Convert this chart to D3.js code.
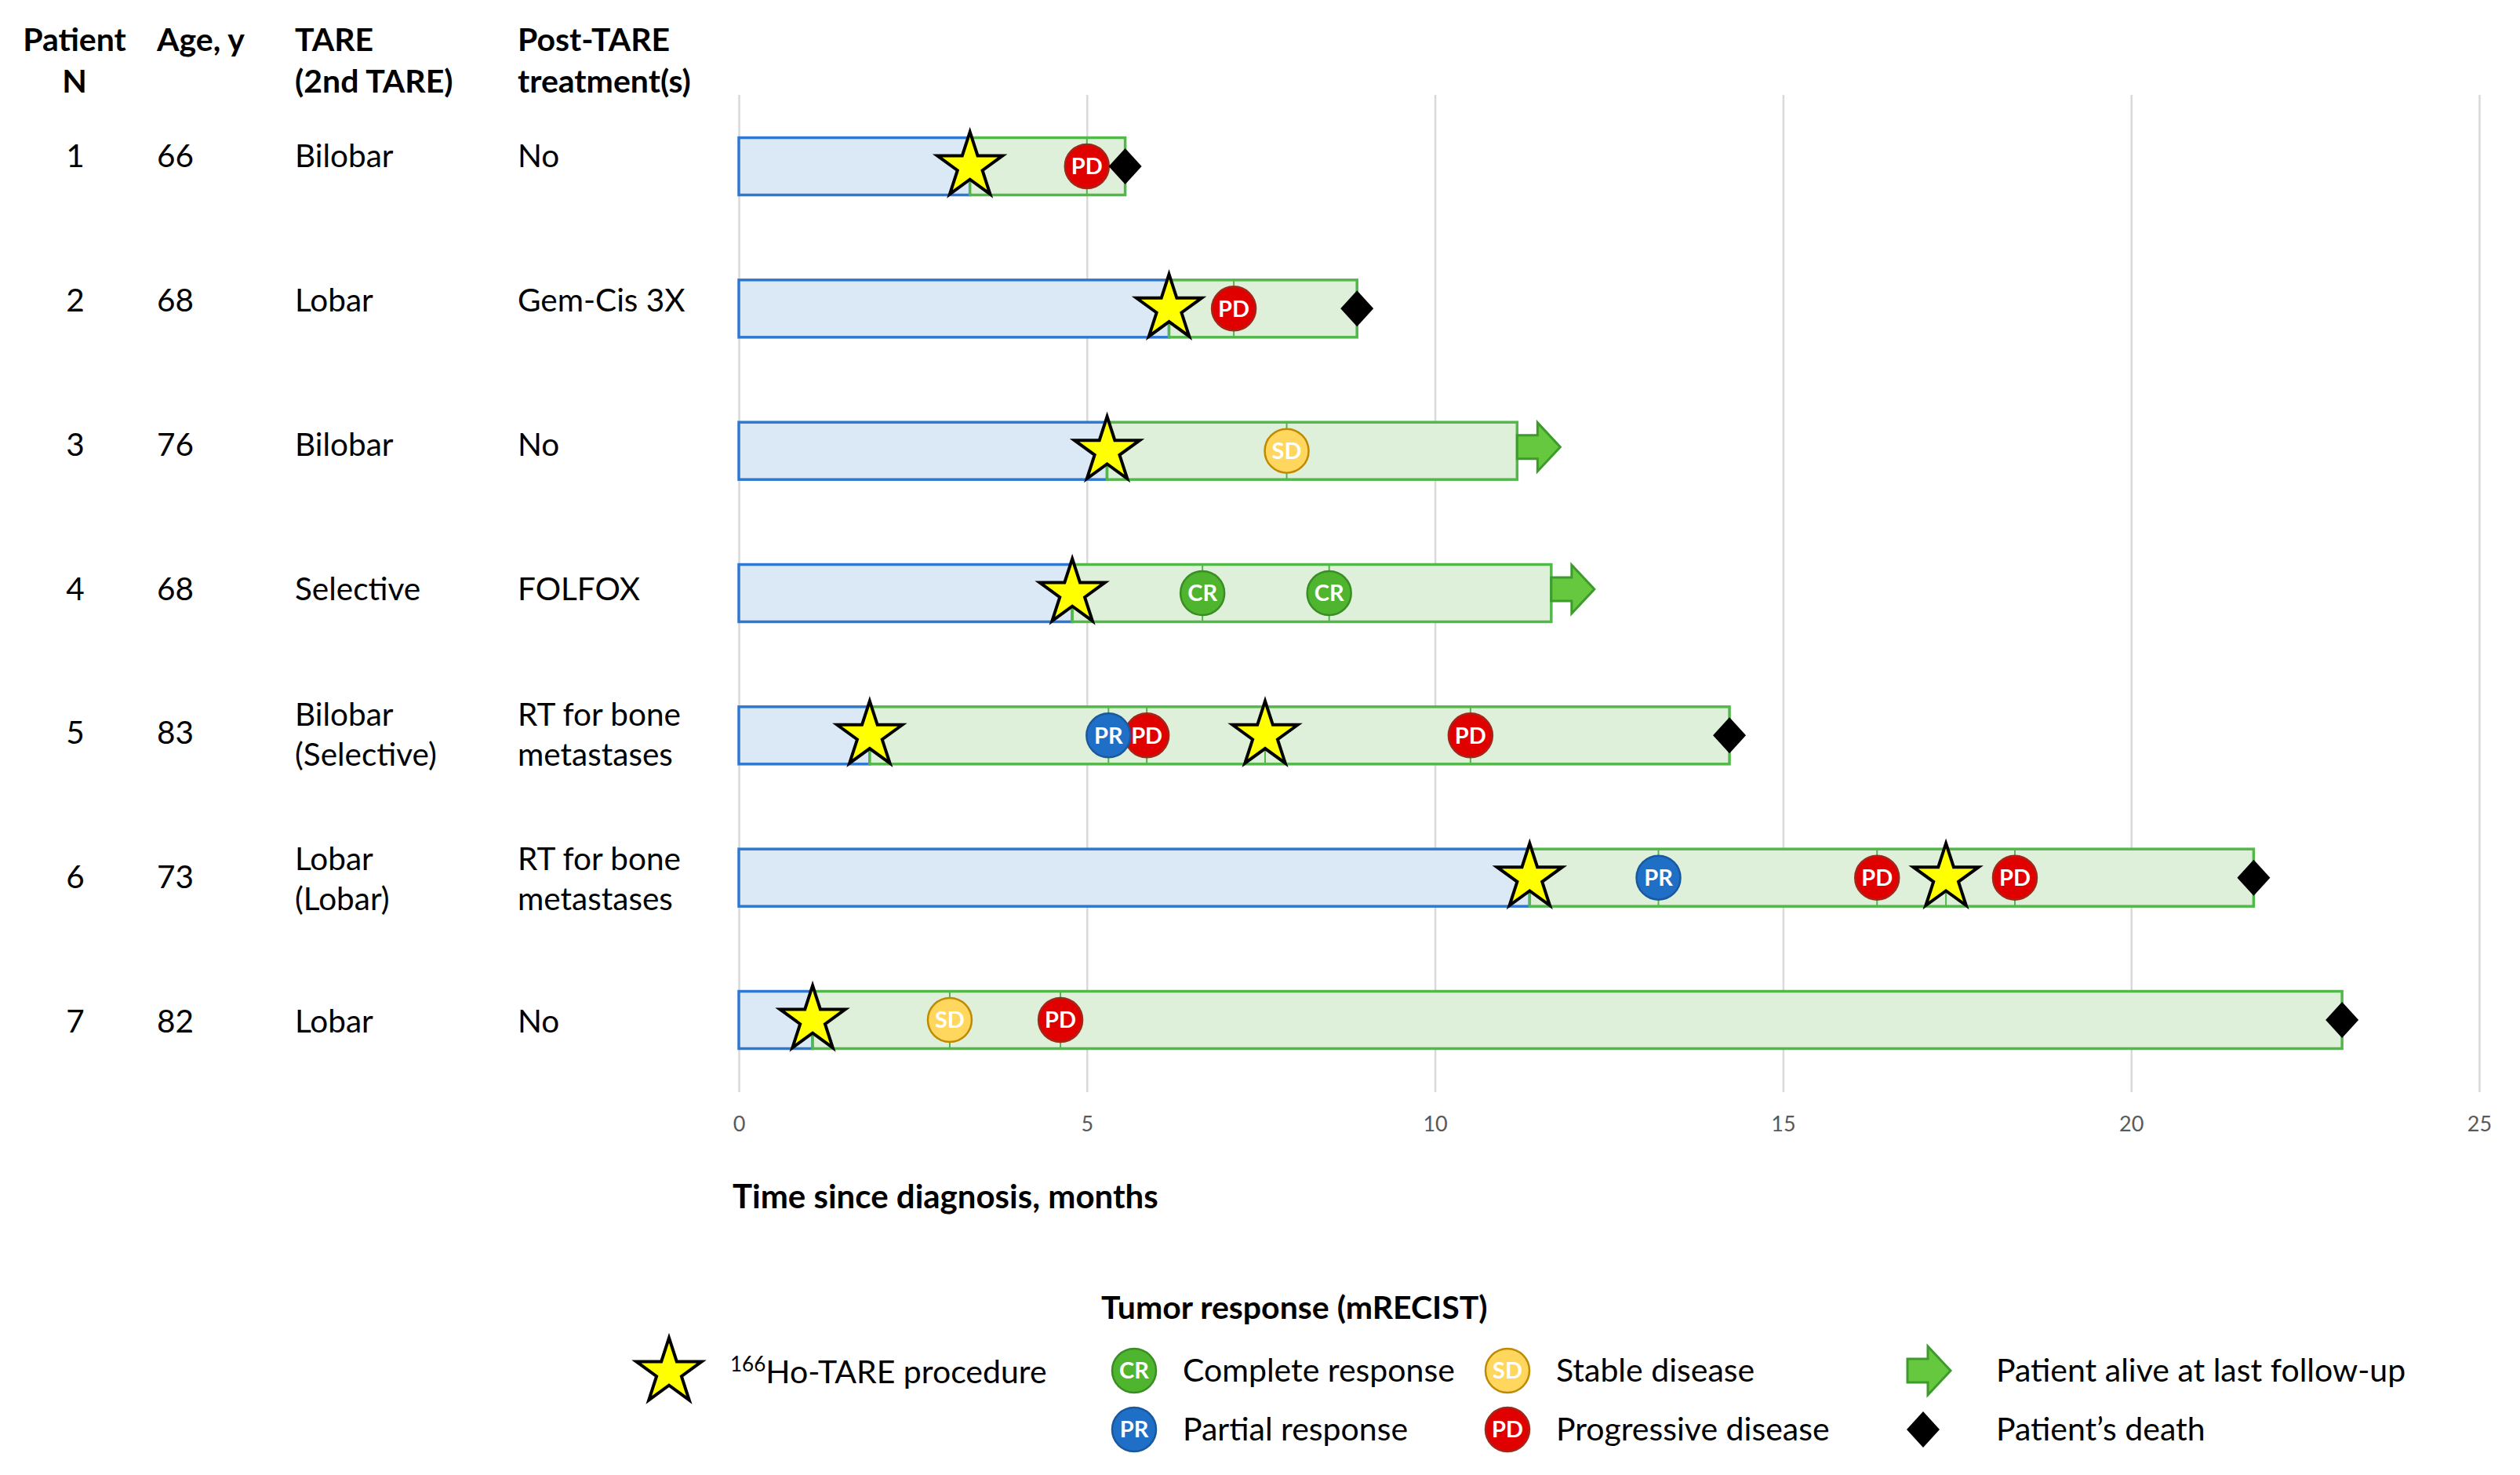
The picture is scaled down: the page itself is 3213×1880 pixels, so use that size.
<!DOCTYPE html>
<html>
<head>
<meta charset="utf-8">
<script src="https://cdn.jsdelivr.net/npm/d3@7"></script>
<style>
  body { margin: 0; background: #fff; }
  svg { display: block; }
</style>
</head>
<body>
<svg id="chart"></svg>
<script>
// table columns
const patients = ['1', '2', '3', '4', '5', '6', '7'];
const ages = ['66', '68', '76', '68', '83', '73', '82'];
const tareType = [['Bilobar'], ['Lobar'], ['Bilobar'], ['Selective'], ['Bilobar', '(Selective)'], ['Lobar', '(Lobar)'], ['Lobar']];
const postTare = [['No'], ['Gem-Cis 3X'], ['No'], ['FOLFOX'], ['RT for bone', 'metastases'], ['RT for bone', 'metastases'], ['No']];

// timeline, months since diagnosis
const firstTare = [3.32, 6.18, 5.29, 4.79, 1.88, 11.36, 1.06];
const lastFollowUp = [5.55, 8.88, 11.18, 11.67, 14.23, 21.76, 23.03];
const outcome = ['death', 'death', 'alive', 'alive', 'death', 'death', 'death'];
const tareTimes = [[3.32], [6.18], [5.29], [4.79], [1.88, 7.56], [11.36, 17.34], [1.06]];
const responseCodes = [['PD'], ['PD'], ['SD'], ['CR', 'CR'], ['PD', 'PR', 'PD'], ['PR', 'PD', 'PD'], ['SD', 'PD']];
const responseTimes = [[5.0], [7.11], [7.87], [6.66, 8.48], [5.86, 5.31, 10.51], [13.21, 16.35, 18.33], [3.03, 4.62]];

const xTicks = [0, 5, 10, 15, 20, 25];

const W = 3213, H = 1880;
const font = 'Lato, "Open Sans", sans-serif';

const respFill = { CR: '#4fb52f', PR: '#1f6fc6', SD: '#ffd75e', PD: '#e00000' };
const respStroke = { CR: '#3a8d25', PR: '#1a589e', SD: '#c08a00', PD: '#a3261a' };

const svg = d3.select('#chart').attr('width', W).attr('height', H)
    .style('font-family', font);
svg.append('rect').attr('width', W).attr('height', H).attr('fill', '#fff');

const x = d3.scaleLinear().domain([0, 25]).range([942, 3161]);
const y = d3.scalePoint().domain(patients).range([212, 1300]);
// the table rows sit on a slightly wider pitch than the bars
const rowText = d3.scalePoint().domain(patients).range([213, 1316]);
const barH = 73;
const gridTop = 121, gridBottom = 1392;

// grid
svg.append('g')
    .attr('transform', `translate(0,${gridBottom})`)
    .call(d3.axisBottom(x).tickValues(xTicks).tickSize(-(gridBottom - gridTop)).tickFormat(''))
    .call(g => g.select('.domain').remove())
    .call(g => g.selectAll('line').attr('stroke', '#d9d9d9').attr('stroke-width', 2.5));

// tick labels
svg.append('g')
    .attr('transform', 'translate(0,1423)')
    .call(d3.axisBottom(x).tickValues(xTicks).tickSize(0).tickPadding(0))
    .call(g => g.select('.domain').remove())
    .call(g => g.selectAll('text').attr('fill', '#595959').style('font-size', '27px').style('font-family', font));

svg.append('text')
    .attr('x', 934).attr('y', 1540)
    .style('font-size', '42px').style('font-weight', 'bold')
    .text('Time since diagnosis, months');

// table header
const header = svg.append('g').style('font-size', '41px').style('font-weight', 'bold');
header.append('text').attr('x', 95).attr('y', 65).attr('text-anchor', 'middle').text('Patient');
header.append('text').attr('x', 95).attr('y', 118).attr('text-anchor', 'middle').text('N');
header.append('text').attr('x', 200).attr('y', 65).text('Age, y');
header.append('text').attr('x', 376).attr('y', 65).text('TARE');
header.append('text').attr('x', 376).attr('y', 118).text('(2nd TARE)');
header.append('text').attr('x', 660).attr('y', 65).text('Post-TARE');
header.append('text').attr('x', 660).attr('y', 118).text('treatment(s)');

// table rows
const table = svg.append('g').style('font-size', '40.5px');
function lines(g, xPos, arr, base) {
    const ys = arr.length === 1 ? [base] : [base - 23, base + 28];
    arr.forEach((t, i) => g.append('text').attr('x', xPos).attr('y', ys[i]).text(t));
}
patients.forEach((p, i) => {
    const base = rowText(p);
    table.append('text').attr('x', 96).attr('y', base).attr('text-anchor', 'middle').text(p);
    table.append('text').attr('x', 200).attr('y', base).text(ages[i]);
    lines(table, 376, tareType[i], base);
    lines(table, 660, postTare[i], base);
});

// bars
const bars = svg.append('g');
bars.selectAll('rect.pre').data(patients).join('rect')
    .attr('class', 'pre')
    .attr('x', x(0)).attr('y', d => y(d) - barH / 2)
    .attr('width', (d, i) => x(firstTare[i]) - x(0)).attr('height', barH)
    .attr('fill', '#dbe9f6').attr('stroke', '#2f78d0').attr('stroke-width', 3.5);
bars.selectAll('rect.post').data(patients).join('rect')
    .attr('class', 'post')
    .attr('x', (d, i) => x(firstTare[i])).attr('y', d => y(d) - barH / 2)
    .attr('width', (d, i) => x(lastFollowUp[i]) - x(firstTare[i])).attr('height', barH)
    .attr('fill', '#def0d9').attr('stroke', '#52b84a').attr('stroke-width', 3.5);

// drop lines at events
const events = [];
patients.forEach((p, i) => {
    tareTimes[i].forEach(t => events.push({ p, t, kind: 'tare' }));
    responseCodes[i].forEach((c, j) => events.push({ p, t: responseTimes[i][j], kind: 'resp', code: c }));
});
svg.append('g').selectAll('line').data(events).join('line')
    .attr('x1', d => x(d.t)).attr('x2', d => x(d.t))
    .attr('y1', d => y(d.p) - barH / 2).attr('y2', d => y(d.p) + barH / 2)
    .attr('stroke', '#52b84a').attr('stroke-width', 2);

// shapes
const starPath = d3.symbol(d3.symbolStar, 2150)();
const diamondPath = 'M0,-23L21,0L0,23L-21,0Z';
const arrowPath = 'M0,-15L26,-15L26,-31L55,0L26,31L26,15L0,15Z';

function respMarker(g, code, cx, cy) {
    const m = g.append('g').attr('transform', `translate(${cx},${cy})`);
    m.append('circle').attr('r', 28)
        .attr('fill', respFill[code]).attr('stroke', respStroke[code]).attr('stroke-width', 2.5);
    m.append('text').attr('text-anchor', 'middle').attr('dy', '0.36em')
        .attr('fill', '#fff').style('font-size', '29px').style('font-weight', 'bold')
        .text(code);
}
function star(g, cx, cy) {
    g.append('path').attr('d', starPath).attr('transform', `translate(${cx},${cy})`)
        .attr('fill', '#ffff00').attr('stroke', '#000').attr('stroke-width', 4);
}

const marks = svg.append('g');
events.filter(d => d.kind === 'resp').forEach(d => respMarker(marks, d.code, x(d.t), y(d.p)));
events.filter(d => d.kind === 'tare').forEach(d => star(marks, x(d.t), y(d.p)));

patients.forEach((p, i) => {
    if (outcome[i] === 'death') {
        marks.append('path').attr('d', diamondPath)
            .attr('transform', `translate(${x(lastFollowUp[i])},${y(p)})`)
            .attr('fill', '#000');
    } else {
        marks.append('path').attr('d', arrowPath)
            .attr('transform', `translate(${x(lastFollowUp[i])},${y(p) - 5})`)
            .attr('fill', '#66c83f').attr('stroke', '#3d9b2c').attr('stroke-width', 3);
    }
});

// legend
const leg = svg.append('g').style('font-size', '41px');
leg.append('text').attr('x', 1404).attr('y', 1681).style('font-weight', 'bold').style('font-size', '41px')
    .text('Tumor response (mRECIST)');

star(leg, 853, 1749);
const tareLabel = leg.append('text').attr('x', 931).attr('y', 1763);
tareLabel.append('tspan').attr('dy', -15).style('font-size', '26px').text('166');
tareLabel.append('tspan').attr('dy', 15).text('Ho-TARE procedure');

const legendResp = [
    { code: 'CR', label: 'Complete response', cx: 1446, cy: 1747 },
    { code: 'PR', label: 'Partial response', cx: 1446, cy: 1822 },
    { code: 'SD', label: 'Stable disease', cx: 1922, cy: 1747 },
    { code: 'PD', label: 'Progressive disease', cx: 1922, cy: 1822 }
];
legendResp.forEach(d => {
    respMarker(leg, d.code, d.cx, d.cy);
    leg.append('text').attr('x', d.cx + 62).attr('y', d.cy + 14).text(d.label);
});

leg.append('path').attr('d', arrowPath).attr('transform', 'translate(2432,1747)')
    .attr('fill', '#66c83f').attr('stroke', '#3d9b2c').attr('stroke-width', 3);
leg.append('text').attr('x', 2545).attr('y', 1761).text('Patient alive at last follow-up');
leg.append('path').attr('d', diamondPath).attr('transform', 'translate(2452,1822)').attr('fill', '#000');
leg.append('text').attr('x', 2545).attr('y', 1836).text('Patient\u2019s death');
</script>
</body>
</html>
